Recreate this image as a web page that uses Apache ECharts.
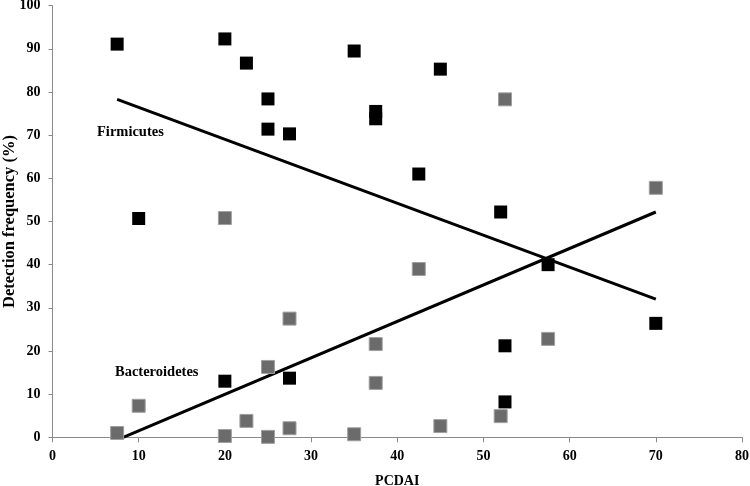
<!DOCTYPE html>
<html><head><meta charset="utf-8">
<script src="https://cdn.jsdelivr.net/npm/echarts@6/dist/echarts.min.js"></script>
<style>html,body{margin:0;padding:0;background:#fff}#c{width:750px;height:486px}</style>
</head><body><div id="c"></div>
<script>
const firmicutesPts = [
  [7.5,91.1],[10,50.7],[20,92.3],[22.5,86.7],[25,78.4],[25,71.4],[27.5,70.3],
  [35,89.5],[37.5,75.5],[37.5,73.8],[42.5,61.0],[45,85.3],[52,52.2],[57.5,40.0],
  [70,26.4],[52.5,21.2],[52.5,8.2],[20,13.0],[27.5,13.7]
];
const bacteroidetesPts = [
  [7.5,1.0],[10,7.3],[20,50.8],[20,0.3],[22.5,3.8],[25,16.3],[25,0.1],[27.5,27.5],
  [27.5,2.1],[35,0.7],[37.5,21.6],[37.5,12.6],[42.5,39.0],[45,2.6],[52,4.9],
  [52.5,78.3],[57.5,22.8],[70,57.8]
];
const firmicutesTrend = [[7.5,78.3],[70,32.0]];
const bacteroidetesTrend = [[8.2,0],[70,52.2]];
const xTitle = 'PCDAI';
const yTitle = 'Detection frequency (%)';
const seriesLabels = ['Firmicutes','Bacteroidetes'];

const font = 'Liberation Serif';
const chart = echarts.init(document.getElementById('c'), null, {renderer:'canvas'});
const axisLine = {show:true, lineStyle:{color:'#8a8a8a', width:1}};
chart.setOption({
  animation:false,
  grid:{left:52.5, right:8, top:5.7, bottom:48.7, containLabel:false, outerBoundsMode:'none'},
  xAxis:{type:'value', min:0, max:80, interval:10,
    name:xTitle, nameLocation:'middle', nameGap:37, nameMoveOverlap:false,
    nameTextStyle:{fontFamily:font, fontWeight:'bold', fontSize:14, color:'#000'},
    axisLine:axisLine, axisTick:{show:true, length:5, lineStyle:{color:'#8a8a8a'}},
    splitLine:{show:false},
    axisLabel:{fontFamily:font, fontWeight:'bold', fontSize:14, color:'#000', margin:12}},
  yAxis:{type:'value', min:0, max:100, interval:10,
    name:yTitle, nameLocation:'middle', nameGap:34, nameRotate:90, nameMoveOverlap:false,
    nameTextStyle:{fontFamily:font, fontWeight:'bold', fontSize:16.5, color:'#000'},
    axisLine:axisLine, axisTick:{show:true, length:4, lineStyle:{color:'#8a8a8a'}},
    splitLine:{show:false},
    axisLabel:{fontFamily:font, fontWeight:'bold', fontSize:14, color:'#000', margin:12}},
  series:[
    {type:'line', data:firmicutesTrend, symbol:'none', lineStyle:{color:'#000', width:3}, z:1},
    {type:'line', data:bacteroidetesTrend, symbol:'none', lineStyle:{color:'#000', width:3}, z:1},
    {type:'scatter', name:seriesLabels[1], data:bacteroidetesPts, symbol:'rect', symbolSize:13,
      itemStyle:{color:'#6b6b6b', borderColor:'#a0a0a0', borderWidth:1, opacity:1}, z:3},
    {type:'scatter', name:seriesLabels[0], data:firmicutesPts, symbol:'rect', symbolSize:13,
      itemStyle:{color:'#000', opacity:1}, z:4}
  ],
  graphic:[
    {type:'text', left:97, top:125, style:{text:seriesLabels[0], fontFamily:font, fontWeight:'bold', fontSize:14.5, fill:'#000'}},
    {type:'text', left:115, top:365, style:{text:seriesLabels[1], fontFamily:font, fontWeight:'bold', fontSize:14.5, fill:'#000'}}
  ]
});
</script></body></html>
